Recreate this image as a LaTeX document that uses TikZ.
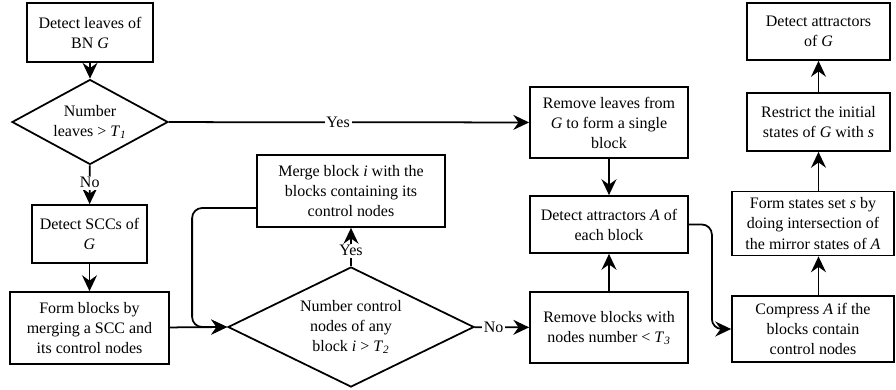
\documentclass[tikz,border=0pt]{standalone}
\usepackage{fontspec}
\setmainfont{Liberation Serif}
\usetikzlibrary{shapes.geometric,arrows.meta}
\newcommand{\Tsub}[1]{\textit{T}\textsubscript{\textit{#1}}}
\begin{document}
\begin{tikzpicture}[font=\fontsize{9.1}{11.4}\selectfont,
    box/.style={draw, line width=1pt, align=center, inner sep=2pt},
    decision/.style={draw, diamond, line width=1pt, align=center, inner sep=0pt},
    line/.style={draw, line width=1pt, -{Stealth[length=9pt,width=8.5pt,inset=3pt]}},
    lbl/.style={fill=white, inner sep=1pt}]
    \useasboundingbox (0,0) rectangle (17.92,-7.78);
    % left column
    \node[box, minimum width=2.52cm, minimum height=1.18cm] (leaves) at (1.80,-0.65) {Detect leaves of\\BN \textit{G}};
    \node[decision, minimum width=3.12cm, minimum height=1.70cm, aspect=1.84] (num1) at (1.80,-2.44) {Number\\leaves > \Tsub{1}};
    \node[box, minimum width=2.30cm, minimum height=1.16cm] (scc) at (1.79,-4.68) {Detect SCCs of\\\textit{G}};
    \node[box, minimum width=3.18cm, minimum height=1.44cm] (form) at (1.79,-6.56) {Form blocks by\\merging a SCC and\\its control nodes};
    % middle
    \node[decision, minimum width=4.92cm, minimum height=2.40cm, aspect=2.05] (num2) at (7.02,-6.54) {Number control\\nodes of any\\block \textit{i} > \Tsub{2}};
    \node[box, minimum width=3.76cm, minimum height=1.44cm] (merge) at (7.02,-3.82) {Merge block \textit{i} with the\\blocks containing its\\control nodes};
    \node[box, minimum width=3.16cm, minimum height=1.42cm] (rmleaves) at (12.18,-2.45) {Remove leaves from\\\textit{G} to form a single\\block};
    \node[box, minimum width=3.16cm, minimum height=1.14cm] (attrA) at (12.18,-4.49) {Detect attractors \textit{A} of\\each block};
    \node[box, minimum width=3.16cm, minimum height=1.42cm] (rmblocks) at (12.18,-6.55) {Remove blocks with\\nodes number < \Tsub{3}};
    % right column
    \node[box, minimum width=2.86cm, minimum height=1.14cm] (attrG) at (16.37,-0.63) {Detect attractors\\of \textit{G}};
    \node[box, minimum width=2.86cm, minimum height=1.16cm] (restrict) at (16.37,-2.44) {Restrict the initial\\states of \textit{G} with \textit{s}};
    \node[box, minimum width=3.24cm, minimum height=1.28cm] (states) at (16.26,-4.47) {Form states set \textit{s} by\\doing intersection of\\the mirror states of \textit{A}};
    \node[box, minimum width=3.24cm, minimum height=1.32cm] (compress) at (16.26,-6.58) {Compress \textit{A} if the\\blocks contain\\control nodes};

    \draw[line] (leaves) -- (num1);
    \draw[line] (num1) -- node[lbl, pos=0.45] {No} (scc);
    \draw[line] (num1) -- node[lbl, pos=0.47] {Yes} (rmleaves);
    \draw[line] (scc) -- (form);
    \draw[line] (form) -- (num2.west);
    \draw[line, rounded corners=0.2cm] ([yshift=-0.34cm]merge.west) -- ++(-1.28,0) |- (num2.west);
    \draw[line] (num2) -- node[lbl, pos=0.4] {Yes} (merge);
    \draw[line] (num2) -- node[lbl, pos=0.35] {No} (rmblocks);
    \draw[line] (rmleaves) -- (attrA);
    \draw[line] (rmblocks) -- (attrA);
    \draw[line, rounded corners=0.2cm] (attrA.east) -- ++(0.46,0) |- (compress.west);
    \draw[line] (compress.north -| restrict) -- (states.south -| restrict);
    \draw[line] (states.north -| restrict) -- (restrict);
    \draw[line] (restrict) -- (attrG);
\end{tikzpicture}
\end{document}
